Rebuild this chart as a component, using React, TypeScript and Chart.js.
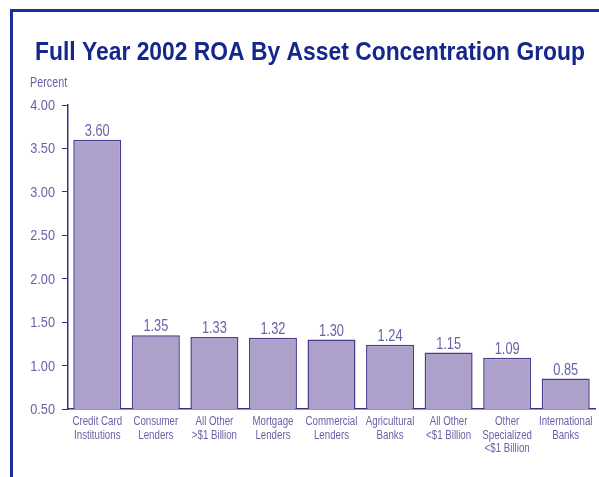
import React, { useEffect, useRef } from "react";
import { Chart, registerables } from "chart.js";

Chart.register(...registerables);

const categories: string[][] = [
  ["Credit Card", "Institutions"],
  ["Consumer", "Lenders"],
  ["All Other", ">$1 Billion"],
  ["Mortgage", "Lenders"],
  ["Commercial", "Lenders"],
  ["Agricultural", "Banks"],
  ["All Other", "<$1 Billion"],
  ["Other", "Specialized", "<$1 Billion"],
  ["International", "Banks"],
];
const roaValues: number[] = [3.6, 1.35, 1.33, 1.32, 1.3, 1.24, 1.15, 1.09, 0.85];
const titleText = "Full Year 2002 ROA By Asset Concentration Group";
const yAxisLabel = "Percent";

const FAMILY = "'Liberation Sans', Arial, sans-serif";
const TEXT = "#6a62a8";
const AXIS = "#3b2f80";

function narrowText(
  ctx: CanvasRenderingContext2D,
  text: string,
  x: number,
  y: number,
  font: string,
  sx: number,
  align: "left" | "center" | "right",
  baseline: CanvasTextBaseline
) {
  ctx.save();
  ctx.font = font;
  ctx.textAlign = align;
  ctx.textBaseline = baseline;
  ctx.translate(x, y);
  ctx.scale(sx, 1);
  ctx.fillText(text, 0, 0);
  ctx.restore();
}

export default function App() {
  const ref = useRef<HTMLCanvasElement>(null);
  useEffect(() => {
    if (!ref.current) return;
    const decor = {
      id: "decor",
      beforeDraw(chart: any) {
        const ctx = chart.ctx;
        ctx.save();
        ctx.fillStyle = "#ffffff";
        ctx.fillRect(0, 0, chart.width, chart.height);
        ctx.fillStyle = "#1b2e9c";
        ctx.fillRect(10, 9, chart.width - 10, 3);
        ctx.fillRect(10, 9, 3, chart.height - 9);
        // title
        ctx.fillStyle = "#16278c";
        ctx.font = `bold 26px ${FAMILY}`;
        const w = ctx.measureText(titleText).width;
        narrowText(ctx, titleText, 35, 60, ctx.font, 550 / w, "left", "alphabetic");
        ctx.fillStyle = TEXT;
        narrowText(ctx, yAxisLabel, 30, 87, `15px ${FAMILY}`, 0.72, "left", "alphabetic");
        ctx.restore();
      },
      afterDraw(chart: any) {
        const ctx = chart.ctx;
        ctx.save();
        ctx.fillStyle = TEXT;
        // bar value labels
        const meta = chart.getDatasetMeta(0);
        meta.data.forEach((bar: any, i: number) => {
          narrowText(ctx, roaValues[i].toFixed(2), bar.x, bar.y - 4, `16px ${FAMILY}`, 0.8, "center", "alphabetic");
        });
        // y tick labels
        const ys = chart.scales.y;
        ys.ticks.forEach((t: any, i: number) => {
          const py = ys.getPixelForTick(i);
          narrowText(ctx, Number(t.value).toFixed(2), 55, py + 5, `14.5px ${FAMILY}`, 0.88, "right", "alphabetic");
        });
        // x category labels
        const xs = chart.scales.x;
        const labels = chart.data.labels as string[][];
        labels.forEach((lines, i) => {
          const px = xs.getPixelForTick(i);
          lines.forEach((line, j) => {
            narrowText(ctx, line, px, 425 + j * 13.5, `13.5px ${FAMILY}`, 0.72, "center", "alphabetic");
          });
        });
        ctx.restore();
      },
    };
    const chart = new Chart(ref.current, {
      type: "bar",
      data: {
        labels: categories,
        datasets: [
          {
            data: roaValues,
            backgroundColor: "#ada1cb",
            borderColor: "#4a3d8c",
            borderWidth: 1.5,
            barPercentage: 0.82,
            categoryPercentage: 1,
          },
        ],
      },
      options: {
        animation: false,
        responsive: false,
        devicePixelRatio: 1,
        layout: { padding: { left: 12, top: 105, right: 4, bottom: 0 } },
        plugins: { legend: { display: false }, tooltip: { enabled: false }, title: { display: false } },
        scales: {
          y: {
            min: 0.5,
            max: 4,
            afterFit(s: any) {
              s.width = 56;
            },
            ticks: {
              stepSize: 0.5,
              color: "rgba(0,0,0,0)",
              font: { family: FAMILY, size: 14 },
              padding: 5,
              callback: (v: any) => Number(v).toFixed(2),
            },
            grid: { drawOnChartArea: false, drawTicks: true, tickLength: 6, color: AXIS, lineWidth: 1 },
            border: { display: true, color: AXIS, width: 1.5 },
          },
          x: {
            afterFit(s: any) {
              s.height = 68;
            },
            ticks: { display: false },
            grid: { display: false, drawTicks: false },
            border: { display: true, color: AXIS, width: 1.5 },
          },
        },
      },
      plugins: [decor],
    });
    return () => chart.destroy();
  }, []);
  return (
    <div style={{ position: "fixed", left: 0, top: 0, width: 599, height: 477 }}>
      <canvas ref={ref} width={599} height={477} style={{ width: 599, height: 477 }} />
    </div>
  );
}
